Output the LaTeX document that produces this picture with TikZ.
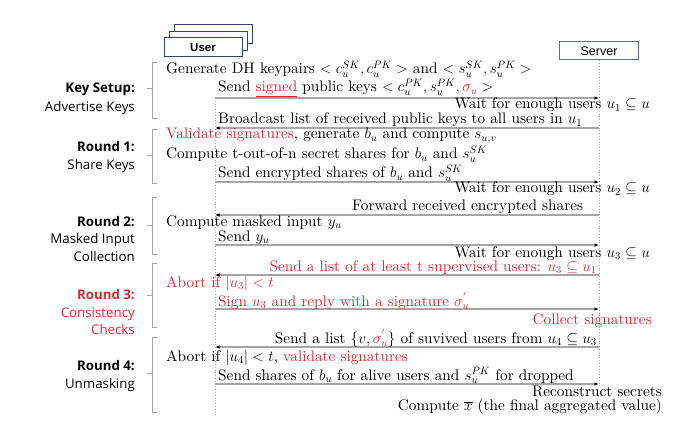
\RequirePackage{fix-cm}
\documentclass[tikz,border=0pt]{standalone}
\usepackage{fontspec}
\setmainfont{lmroman10}[Extension=.otf, UprightFont=*-regular, BoldFont=*-bold, ItalicFont=*-italic, BoldItalicFont=*-bolditalic]
\newfontfamily\labfont{Open Sans}
\newfontfamily\boxfont{Liberation Sans}
\usetikzlibrary{arrows.meta}
\definecolor{myred}{RGB}{222,38,48}
\definecolor{linegray}{RGB}{165,165,165}
\definecolor{boxblue}{RGB}{50,65,110}
\definecolor{srvblue}{RGB}{95,110,140}
\begin{document}
\begin{tikzpicture}[x=1pt,y=-1pt,
  msg/.style={draw=linegray, line width=1.1pt, -{Latex[length=4.5pt,width=3.5pt,color=black]}},
  life/.style={draw=linegray, dotted, line width=0.8pt},
  brk/.style={draw=linegray, line width=0.8pt},
  txt/.style={inner sep=0pt, font=\fontsize{15.3}{17}\selectfont},
  txtl/.style={txt, anchor=base west},
  txtr/.style={txt, anchor=base east},
  lab/.style={inner sep=0pt, anchor=base east, font=\labfont\fontsize{13.3}{16}\selectfont},
  labb/.style={lab, font=\labfont\bfseries\fontsize{13.3}{16}\selectfont},
  ubox/.style={draw=boxblue, fill=white, line width=1pt},
  sbox/.style={draw=srvblue, fill=white, line width=1pt, inner sep=0pt, font=\boxfont\fontsize{12.5}{14}\selectfont}
]
\useasboundingbox (0,0) rectangle (695,438);

% User boxes
\draw[ubox] (174,25) rectangle (252,44);
\draw[ubox] (169,31.5) rectangle (247,50.5);
\node[ubox, inner sep=0pt, minimum width=78pt, minimum height=19pt, font=\boxfont\bfseries\fontsize{11.5}{14}\selectfont] (user) at (203,47.5) {User};
% Server box
\node[sbox, minimum width=79pt, minimum height=18pt] (server) at (599,51) {Server};

% lifelines
\coordinate (ultop) at (215,98);
\coordinate (ulbot) at (215,415);
\coordinate (slbot) at (599,386);
\draw[life] (ultop) -- (ulbot);
\draw[life] (server.south) -- (slbot);

% brackets
\draw[brk] (157,62) -- (152,62) -- (152,118) -- (157,118); \draw[brk] (152,88) -- (147,88);
\draw[brk] (157,129) -- (152,129) -- (152,183) -- (157,183); \draw[brk] (152,155) -- (147,155);
\draw[brk] (157,197) -- (152,197) -- (152,254) -- (157,254); \draw[brk] (152,225) -- (147,225);
\draw[brk] (157,263) -- (152,263) -- (152,327) -- (157,327); \draw[brk] (152,295) -- (147,295);
\draw[brk] (157,337) -- (152,337) -- (152,412) -- (157,412); \draw[brk] (152,373) -- (147,373);

% labels
\node[labb] (ks1) at (135,92.5) {Key Setup:};
\node[lab] (ks2) at (135,111.5) {Advertise Keys};
\node[labb] (r11) at (135,151.5) {Round 1:};
\node[lab] (r12) at (135,169.5) {Share Keys};
\node[labb] (r21) at (135,226.5) {Round 2:};
\node[lab] (r22) at (135,243.5) {Masked Input};
\node[lab] (r23) at (135,261.5) {Collection};
\node[labb, text=myred] (r31) at (135,299.5) {Round 3:};
\node[lab, text=myred] (r32) at (135,317.5) {Consistency};
\node[lab, text=myred] (r33) at (135,334.5) {Checks};
\node[labb] (r41) at (135,370.5) {Round 4:};
\node[lab] (r42) at (135,388.5) {Unmasking};

% message arrows
\coordinate (u1) at (215,98);  \coordinate (s1) at (599,98);
\coordinate (u2) at (215,128); \coordinate (s2) at (599,128);
\coordinate (u3) at (215,182); \coordinate (s3) at (599,182);
\coordinate (u4) at (215,215); \coordinate (s4) at (599,215);
\coordinate (u5) at (215,245); \coordinate (s5) at (599,245);
\coordinate (u6) at (215,275); \coordinate (s6) at (599,275);
\coordinate (u7) at (215,309); \coordinate (s7) at (599,309);
\coordinate (u8) at (215,347); \coordinate (s8) at (599,347);
\coordinate (u9) at (215,384); \coordinate (s9) at (599,384);
\draw[msg] (u1) -- (s1);
\draw[msg] (s2) -- (u2);
\draw[msg] (u3) -- (s3);
\draw[msg] (s4) -- (u4);
\draw[msg] (u5) -- (s5);
\draw[msg] (s6) -- (u6);
\draw[msg] (u7) -- (s7);
\draw[msg] (s8) -- (u8);
\draw[msg] (u9) -- (s9);

% texts
\node[txtl] (t1) at (166,74) {Generate DH keypairs $<c_u^{SK},c_u^{PK}>$ and $<s_u^{SK},s_u^{PK}>$};
\node[txtl] (t2) at (218,92) {Send {\color{myred}\underline{signed}} public keys $<c_u^{PK},s_u^{PK},{\color{myred}\sigma_u}>$};
\node[txtr] (t3) at (650,109) {Wait for enough users $u_1\subseteq u$};
\node[txtl] (t4) at (218,124) {Broadcast list of received public keys to all users in $u_1$};
\node[txtl] (t5) at (166,139) {{\color{myred}Validate signatures}, generate $b_u$ and compute $s_{u,v}$};
\node[txtl] (t6) at (166,159) {Compute t-out-of-n secret shares for $b_u$ and $s_u^{SK}$};
\node[txtl] (t7) at (218,178) {Send encrypted shares of $b_u$ and $s_u^{SK}$};
\node[txtr] (t8) at (650,193) {Wait for enough users $u_2\subseteq u$};
\node[txtl] (t9) at (352,211) {Forward received encrypted shares};
\node[txtl] (t10) at (166,226) {Compute masked input $y_u$};
\node[txtl] (t11) at (218,241) {Send $y_u$};
\node[txtr] (t12) at (650,257) {Wait for enough users $u_3\subseteq u$};
\node[txtr, text=myred] (t13) at (597,271) {Send a list of at least t supervised users: $u_3\subseteq u_1$};
\node[txtl, text=myred] (t14) at (166,287) {Abort if $|u_3|<t$};
\node[txtl, text=myred] (t15) at (218,306) {Sign $u_3$ and reply with a signature $\sigma_u^{'}$};
\node[txtr, text=myred] (t16) at (652,324) {Collect signatures};
\node[txtr] (t17) at (597,343) {Send a list $\{v,{\color{myred}\sigma_u^{'}}\}$ of suvived users from $u_4\subseteq u_3$};
\node[txtl] (t18) at (166,361) {Abort if $|u_4|<t$, {\color{myred}validate signatures}};
\node[txtl] (t19) at (218,380) {Send shares of $b_u$ for alive users and $s_u^{PK}$ for dropped};
\node[txtr] (t20) at (662,396) {Reconstruct secrets};
\node[txtr] (t21) at (662,410) {Compute $\overline{x}$ (the final aggregated value)};
\end{tikzpicture}
\end{document}
